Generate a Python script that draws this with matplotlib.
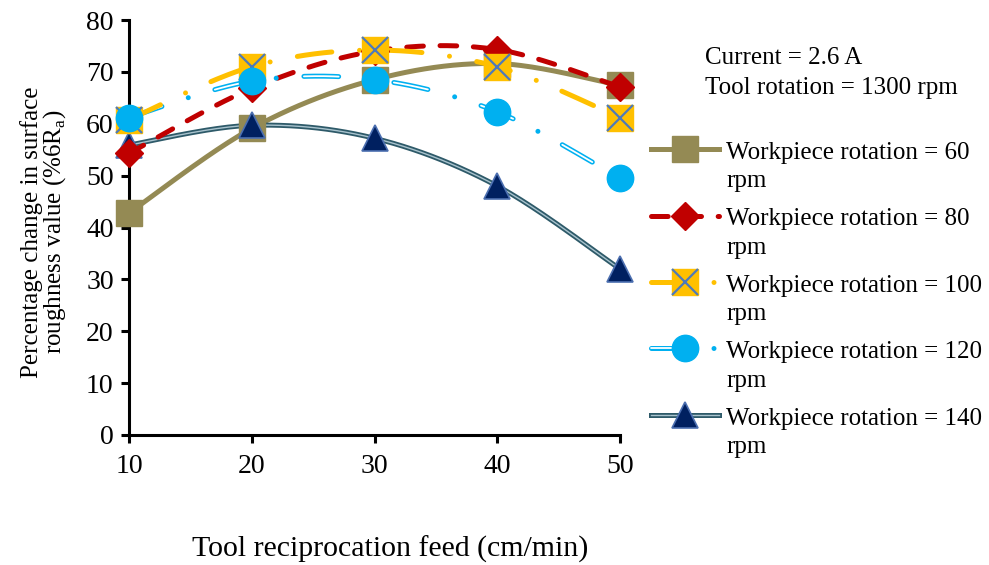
import numpy as np
import matplotlib
matplotlib.use("Agg")
import matplotlib.pyplot as plt
from matplotlib.lines import Line2D
from matplotlib.legend_handler import HandlerLine2D, HandlerTuple

plt.rcParams["font.family"] = ["Liberation Serif", "DejaVu Serif"]
plt.rcParams["mathtext.fontset"] = "custom"
plt.rcParams["mathtext.rm"] = "Liberation Serif"
plt.rcParams["lines.scale_dashes"] = False

# Tool reciprocation feed (cm/min)
feed = [10, 20, 30, 40, 50]

# Percentage change in surface roughness for each workpiece rotation
rot60 = [42.8, 59.1, 68.5, 71.6, 67.4]
rot80 = [54.3, 66.8, 74.0, 74.3, 67.1]
rot100 = [60.8, 71.0, 74.2, 71.0, 61.2]
rot120 = [61.2, 68.2, 68.5, 62.3, 49.5]
rot140 = [55.9, 59.7, 57.2, 48.0, 32.0]

labels = [
    "Workpiece rotation = 60\nrpm",
    "Workpiece rotation = 80\nrpm",
    "Workpiece rotation = 100\nrpm",
    "Workpiece rotation = 120\nrpm",
    "Workpiece rotation = 140\nrpm",
]

y_ticks = [0, 10, 20, 30, 40, 50, 60, 70, 80]

OLIVE = "#948A54"
RED = "#C00000"
GOLD = "#FFC000"
SKY = "#00B0F0"
TEAL = "#2E5A69"
TEAL_IN = "#A9C3CE"
NAVY = "#002060"
NAVY_EDGE = "#4C6FB0"
XBLUE = "#4F7AB8"


def smooth(x, y, n=40):
    """Spreadsheet-style smoothed line: cubic Bezier segments with
    Catmull-Rom control points (tension 1/6)."""
    x = np.asarray(x, float)
    y = np.asarray(y, float)
    P = np.column_stack([x, y])
    Pe = np.vstack([P[0], P, P[-1]])
    out = []
    t = np.linspace(0, 1, n)[:, None]
    for i in range(len(P) - 1):
        p0, p1, p2, p3 = Pe[i], Pe[i + 1], Pe[i + 2], Pe[i + 3]
        c1 = p1 + (p2 - p0) / 6.0
        c2 = p2 - (p3 - p1) / 6.0
        seg = ((1 - t) ** 3) * p1 + 3 * ((1 - t) ** 2) * t * c1 \
            + 3 * (1 - t) * t ** 2 * c2 + t ** 3 * p2
        out.append(seg if i == 0 else seg[1:])
    out = np.vstack(out)
    return out[:, 0], out[:, 1]


class RaisedLine(HandlerLine2D):
    """Legend line handler that lifts the sample up to the first label line."""
    lift = 2.0  # points

    def create_artists(self, legend, orig_handle, xdescent, ydescent,
                       width, height, fontsize, trans):
        return super().create_artists(legend, orig_handle, xdescent,
                                      ydescent - 2 * self.lift, width, height,
                                      fontsize, trans)


fig = plt.figure(figsize=(9.89, 5.65), dpi=100)
ax = fig.add_axes([129 / 989, 1 - 435 / 565, 491 / 989, 415 / 565])

LW = 3.6
MS = 19

# dash patterns (points)
red_dash = (0, (12, 12))
gold_dash = (0, (25, 20, 0.01, 20))
sky_dash = (0, (25, 20, 0.01, 20))
sky_inner = (0, (25, 40.01))

# 60 rpm: solid olive, square markers
sx, sy = smooth(feed, rot60)
ax.plot(sx, sy, color=OLIVE, lw=LW, solid_capstyle="round", zorder=3, clip_on=False)
ax.plot(feed, rot60, ls="none", marker="s", ms=MS, mfc=OLIVE, mec=OLIVE, zorder=4, clip_on=False)

# 140 rpm: double teal line, navy triangles
sx, sy = smooth(feed, rot140)
ax.plot(sx, sy, color=TEAL, lw=LW, solid_capstyle="round", zorder=3, clip_on=False)
ax.plot(sx, sy, color=TEAL_IN, lw=1.0, zorder=3, clip_on=False)
ax.plot(feed, rot140, ls="none", marker="^", ms=MS, mfc=NAVY, mec=NAVY_EDGE, mew=1.2, zorder=4, clip_on=False)

# 80 rpm: red dashed, diamonds
sx, sy = smooth(feed, rot80)
ax.plot(sx, sy, color=RED, lw=LW, ls=red_dash, dash_capstyle="round", zorder=5, clip_on=False)
ax.plot(feed, rot80, ls="none", marker="D", ms=MS * 0.75, mfc=RED, mec=RED, zorder=6, clip_on=False)

# 120 rpm: double sky-blue dash-dot, circles
sx, sy = smooth(feed, rot120)
ax.plot(sx, sy, color=SKY, lw=LW, ls=sky_dash, dash_capstyle="round", zorder=5, clip_on=False)
ax.plot(sx, sy, color="white", lw=1.3, ls=sky_inner, dash_capstyle="round", zorder=5, clip_on=False)

# 100 rpm: gold long dash-dot, boxed crosses
gx, gy = smooth(feed, rot100)
ax.plot(gx, gy, color=GOLD, lw=LW, ls=gold_dash, dash_capstyle="round", zorder=5, clip_on=False)
ax.plot(feed, rot100, ls="none", marker="s", ms=MS, mfc=GOLD, mec=GOLD, zorder=6, clip_on=False)
ax.plot(feed, rot100, ls="none", marker="x", ms=MS * 0.95, mec=XBLUE, mew=1.6, zorder=7, clip_on=False)

ax.plot(feed, rot120, ls="none", marker="o", ms=MS, mfc=SKY, mec=SKY, zorder=8, clip_on=False)

ax.set_xlim(10, 50)
ax.set_ylim(0, 80)
ax.set_xticks(feed)
ax.set_yticks(y_ticks)
for s in ("top", "right"):
    ax.spines[s].set_visible(False)
for s in ("left", "bottom"):
    ax.spines[s].set_linewidth(2.2)
ax.tick_params(direction="out", length=6, width=2.2, labelsize=20, pad=5)
ax.tick_params(axis="x", pad=8)

ax.set_xlabel("Tool reciprocation feed (cm/min)", fontsize=21.5)
ax.xaxis.set_label_coords((390 - 129) / 491, (435 - 549) / 415)
ax.xaxis.label.set_verticalalignment("center")

ax.set_ylabel("Percentage change in surface\nroughness value (%6R$_\\mathregular{a}$)",
              fontsize=18, linespacing=0.86)
ax.yaxis.set_label_coords((44 - 129) / 491, (435 - 232) / 415)
ax.yaxis.label.set_verticalalignment("center")
ax.yaxis.label.set_horizontalalignment("center")

fig.text(705 / 989, 1 - 58 / 565, "Current = 2.6 A", fontsize=18, va="center", ha="left")
fig.text(705 / 989, 1 - 88 / 565, "Tool rotation = 1300 rpm", fontsize=18, va="center", ha="left")

# legend handles
h60 = Line2D([], [], color=OLIVE, lw=LW, marker="s", ms=MS, mfc=OLIVE, mec=OLIVE)
h80 = Line2D([], [], color=RED, lw=LW, ls=red_dash, dash_capstyle="round", marker="D", ms=MS * 0.75, mfc=RED, mec=RED)
h100 = (Line2D([], [], color=GOLD, lw=LW, ls=gold_dash, dash_capstyle="round"),
        Line2D([], [], ls="none", marker="s", ms=MS, mfc=GOLD, mec=GOLD),
        Line2D([], [], ls="none", marker="x", ms=MS * 0.95, mec=XBLUE, mew=1.6))
h120 = (Line2D([], [], color=SKY, lw=LW, ls=sky_dash, dash_capstyle="round"),
        Line2D([], [], color="white", lw=1.3, ls=sky_inner, dash_capstyle="round"),
        Line2D([], [], ls="none", marker="o", ms=MS, mfc=SKY, mec=SKY))
h140 = (Line2D([], [], color=TEAL, lw=LW),
        Line2D([], [], color=TEAL_IN, lw=1.0),
        Line2D([], [], ls="none", marker="^", ms=MS, mfc=NAVY, mec=NAVY_EDGE, mew=1.2))

leg = fig.legend([h60, h80, h100, h120, h140], labels,
                 loc="upper left", bbox_to_anchor=(651 / 989, 1 - 142 / 565),
                 frameon=False, fontsize=18, handlelength=2.7, handletextpad=0.32,
                 handleheight=1.0, labelspacing=0.64, borderpad=0, borderaxespad=0,
                 handler_map={Line2D: RaisedLine(), tuple: HandlerTuple(ndivide=1)})
for t in leg.get_texts():
    t.set_linespacing(1.38)
for col in leg._legend_handle_box.get_children():
    for item in col.get_children():
        item.align = "top"

fig.savefig("out.png", dpi=100)
